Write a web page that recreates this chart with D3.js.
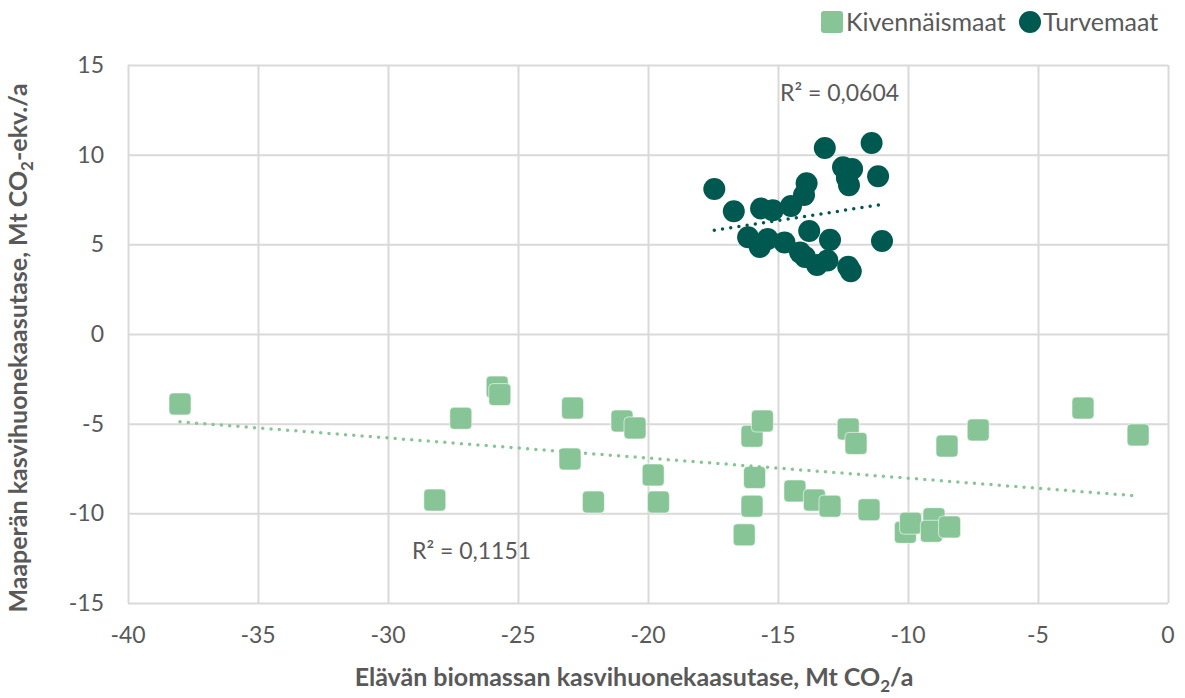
<!DOCTYPE html>
<html>
<head>
<meta charset="utf-8">
<script src="https://cdn.jsdelivr.net/npm/d3@7"></script>
<style>
  body { margin: 0; background: #fff; }
  text { font-family: Lato, "Open Sans", sans-serif; fill: #595959; }
</style>
</head>
<body>
<svg id="chart" width="1185" height="698"></svg>
<script>
// Kivennäismaat (mineral soils)
var kivX = [-38.0, -28.2, -27.2, -25.8, -25.7, -22.9, -23.0, -22.1, -21.0, -20.5, -19.8, -19.6,
            -16.3, -16.0, -16.0, -15.9, -15.6, -14.35, -13.6, -13.0, -11.5, -12.3, -12.0,
            -10.1, -9.9, -9.0, -9.1, -8.4, -8.5, -7.3, -3.27, -1.15];
var kivY = [-3.9, -9.26, -4.7, -2.96, -3.38, -4.13, -6.97, -9.37, -4.85, -5.24, -7.86, -9.37,
            -11.2, -5.7, -9.6, -8.0, -4.85, -8.75, -9.26, -9.6, -9.8, -5.3, -6.1,
            -11.06, -10.55, -10.3, -11.0, -10.76, -6.25, -5.35, -4.13, -5.63];
// Turvemaat (peat soils)
var turX = [-17.45, -16.7, -15.65, -15.2, -14.5, -14.0, -13.9, -13.2, -11.4, -12.5, -12.15, -12.35,
            -12.27, -11.15, -11.0, -13.8, -13.0, -16.15, -15.7, -15.4, -14.75, -14.15, -13.96,
            -13.5, -13.1, -12.3, -12.2];
var turY = [8.09, 6.85, 7.0, 6.9, 7.14, 7.75, 8.4, 10.37, 10.65, 9.3, 9.2, 8.7,
            8.3, 8.8, 5.19, 5.74, 5.25, 5.4, 4.85, 5.3, 5.1, 4.55, 4.3,
            3.85, 4.1, 3.75, 3.5];
var xTicks = [-40, -35, -30, -25, -20, -15, -10, -5, 0];
var yTicks = [-15, -10, -5, 0, 5, 10, 15];

var kiv = kivX.map(function (d, i) { return { x: d, y: kivY[i] } });
var tur = turX.map(function (d, i) { return { x: d, y: turY[i] } });

var green = "#87c597";
var dark = "#005950";
var svg = d3.select("#chart");
var pLeft = 128, pRight = 1168, pTop = 65, pBottom = 603;

var x = d3.scaleLinear().domain([-40, 0]).range([pLeft, pRight]);
var y = d3.scaleLinear().domain([-15, 15]).range([pBottom, pTop]);

// grid
svg.append("g")
  .attr("transform", "translate(0," + pBottom + ")")
  .call(d3.axisBottom(x).tickValues(xTicks).tickSize(-(pBottom - pTop)).tickFormat(""))
  .call(function (g) { g.select(".domain").remove() })
  .selectAll("line").attr("stroke", "#d9d9d9").attr("stroke-width", 2);
svg.append("g")
  .attr("transform", "translate(" + pLeft + ",0)")
  .call(d3.axisLeft(y).tickValues(yTicks).tickSize(-(pRight - pLeft)).tickFormat(""))
  .call(function (g) { g.select(".domain").remove() })
  .selectAll("line").attr("stroke", "#d9d9d9").attr("stroke-width", 2);

// tick labels
svg.selectAll(".xl").data(xTicks).enter().append("text")
  .attr("x", function (d) { return x(d) }).attr("y", 643)
  .attr("text-anchor", "middle").style("font-size", "23px")
  .text(function (d) { return d });
svg.selectAll(".yl").data(yTicks).enter().append("text")
  .attr("x", 104).attr("y", function (d) { return y(d) + 8 })
  .attr("text-anchor", "end").style("font-size", "23px")
  .text(function (d) { return d });

// trendlines (least squares)
function fit(pts) {
  var mx = d3.mean(pts, function (d) { return d.x }), my = d3.mean(pts, function (d) { return d.y });
  var sxy = d3.sum(pts, function (d) { return (d.x - mx) * (d.y - my) });
  var sxx = d3.sum(pts, function (d) { return (d.x - mx) * (d.x - mx) });
  var b = sxy / sxx, a = my - b * mx;
  var ext = d3.extent(pts, function (d) { return d.x });
  return ext.map(function (v) { return { x: v, y: a + b * v } });
}
var line = d3.line().x(function (d) { return x(d.x) }).y(function (d) { return y(d.y) });

// squares
svg.selectAll(".kiv").data(kiv).enter().append("rect")
  .attr("x", function (d) { return x(d.x) - 11 }).attr("y", function (d) { return y(d.y) - 11 })
  .attr("width", 22).attr("height", 22).attr("rx", 4)
  .attr("fill", green).attr("stroke", "#ffffff").attr("stroke-width", 0.6);
svg.append("path").datum(fit(kiv)).attr("d", line)
  .attr("fill", "none").attr("stroke", green).attr("stroke-width", 3.5)
  .attr("stroke-linecap", "round").attr("stroke-dasharray", "0 8.3");

// circles
svg.selectAll(".tur").data(tur).enter().append("circle")
  .attr("cx", function (d) { return x(d.x) }).attr("cy", function (d) { return y(d.y) })
  .attr("r", 11).attr("fill", dark);
svg.append("path").datum(fit(tur)).attr("d", line)
  .attr("fill", "none").attr("stroke", dark).attr("stroke-width", 3.5)
  .attr("stroke-linecap", "round").attr("stroke-dasharray", "0 8.3");

// R² labels
svg.append("text").attr("x", 780).attr("y", 101).style("font-size", "23px").text("R² = 0,0604");
svg.append("text").attr("x", 412).attr("y", 559).style("font-size", "23px").text("R² = 0,1151");

// axis titles
var xt = svg.append("text").attr("x", 634).attr("y", 686).attr("text-anchor", "middle")
  .style("font-size", "25px").style("font-weight", "bold");
xt.append("tspan").text("Elävän biomassan kasvihuonekaasutase, Mt CO");
xt.append("tspan").attr("dy", 6).style("font-size", "17px").text("2");
xt.append("tspan").attr("dy", -6).text("/a");

var yt = svg.append("text").attr("transform", "translate(27,348) rotate(-90)").attr("text-anchor", "middle")
  .style("font-size", "25px").style("font-weight", "bold");
yt.append("tspan").text("Maaperän kasvihuonekaasutase, Mt CO");
yt.append("tspan").attr("dy", 6).style("font-size", "17px").text("2");
yt.append("tspan").attr("dy", -6).text("-ekv./a");

// legend
svg.append("rect").attr("x", 821).attr("y", 11).attr("width", 22).attr("height", 22).attr("rx", 3).attr("fill", green);
svg.append("text").attr("x", 846).attr("y", 31).style("font-size", "25px").text("Kivennäismaat");
svg.append("circle").attr("cx", 1030).attr("cy", 22).attr("r", 11).attr("fill", dark);
svg.append("text").attr("x", 1043).attr("y", 31).style("font-size", "25px").text("Turvemaat");
</script>
</body>
</html>
